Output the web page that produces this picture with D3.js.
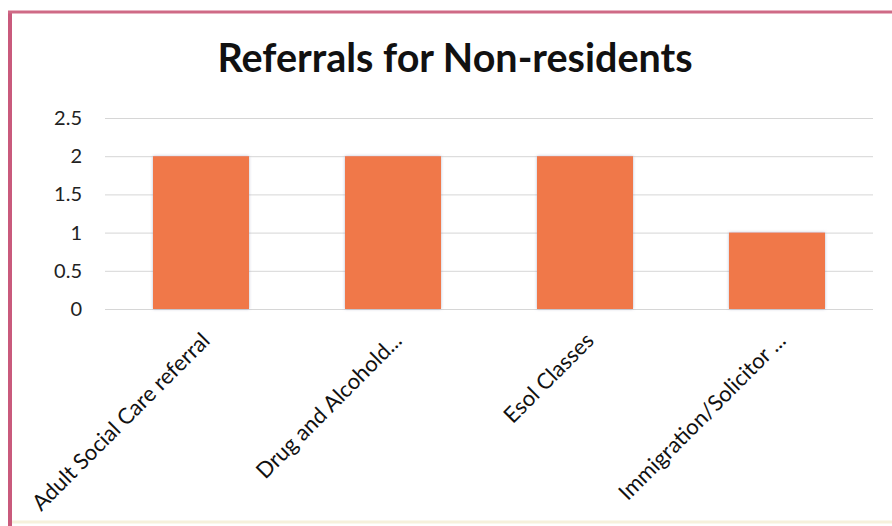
<!DOCTYPE html>
<html>
<head>
<meta charset="utf-8">
<script src="https://cdn.jsdelivr.net/npm/d3@7"></script>
<style>
  body { margin: 0; background: #fff; }
  svg { display: block; }
  .grid line { stroke: #d6d6d6; stroke-width: 1; }
  .grid path { display: none; }
  .grid text { font-family: Lato, "Open Sans", sans-serif; font-size: 20px; fill: #222; }
  .xaxis path, .xaxis line { display: none; }
  .xaxis text { font-family: Lato, "Open Sans", sans-serif; font-size: 22px; fill: #111; }
</style>
</head>
<body>
<svg id="chart" width="892" height="526"></svg>
<script>
const title = 'Referrals for Non-residents';
const categories = ['Adult Social Care referral', 'Drug and Alcohold...', 'Esol Classes', 'Immigration/Solicitor ...'];
const values = [2, 2, 2, 1];
const yTicks = [0, 0.5, 1, 1.5, 2, 2.5];

const width = 892, height = 526;
const plot = { left: 105, right: 873, top: 118, bottom: 309 };

const svg = d3.select('#chart');

svg.append('rect').attr('width', width).attr('height', height).attr('fill', '#fff');

// frame edges of the scanned chart box
svg.append('line').attr('x1', 10).attr('x2', 10).attr('y1', 11).attr('y2', height)
  .attr('stroke', '#c95a7c').attr('stroke-width', 4);
svg.append('line').attr('x1', 8).attr('x2', width).attr('y1', 12).attr('y2', 12)
  .attr('stroke', '#cf6a86').attr('stroke-width', 3);
svg.append('line').attr('x1', 12).attr('x2', width).attr('y1', 522).attr('y2', 522)
  .attr('stroke', '#f6f1dc').attr('stroke-width', 3);

svg.append('text')
  .attr('x', 455).attr('y', 72)
  .attr('text-anchor', 'middle')
  .style('font-family', 'Lato, "Open Sans", sans-serif')
  .style('font-weight', 'bold')
  .style('font-size', '39.5px')
  .attr('fill', '#111')
  .text(title);

const x = d3.scaleBand()
  .domain(categories)
  .range([plot.left, plot.right])
  .paddingInner(0.5)
  .paddingOuter(0.25);

const y = d3.scaleLinear()
  .domain([0, 2.5])
  .range([plot.bottom, plot.top]);

svg.append('g')
  .attr('class', 'grid')
  .attr('transform', `translate(${plot.left},0)`)
  .call(d3.axisLeft(y).tickValues(yTicks).tickSize(-(plot.right - plot.left)).tickPadding(23).tickFormat(d3.format('')));

const defs = svg.append('defs');
const shadow = defs.append('filter').attr('id', 'soft').attr('x', '-10%').attr('y', '-10%').attr('width', '120%').attr('height', '120%');
shadow.append('feGaussianBlur').attr('in', 'SourceAlpha').attr('stdDeviation', 1.5).attr('result', 'blur');
shadow.append('feFlood').attr('flood-color', '#8a8fb0').attr('flood-opacity', 0.6);
shadow.append('feComposite').attr('in2', 'blur').attr('operator', 'in').attr('result', 'sh');
const merge = shadow.append('feMerge');
merge.append('feMergeNode').attr('in', 'sh');
merge.append('feMergeNode').attr('in', 'SourceGraphic');

svg.append('g')
  .selectAll('rect')
  .data(values)
  .join('rect')
  .attr('x', (d, i) => x(categories[i]))
  .attr('y', d => y(d))
  .attr('width', x.bandwidth())
  .attr('height', d => y(0) - y(d))
  .attr('fill', '#f0784a')
  .attr('filter', 'url(#soft)');

svg.append('g')
  .attr('class', 'xaxis')
  .attr('transform', `translate(0,${plot.bottom})`)
  .call(d3.axisBottom(x).tickSize(0))
  .selectAll('text')
  .attr('text-anchor', 'end')
  .attr('dy', 0)
  .attr('transform', 'translate(8,31) rotate(-45)');
</script>
</body>
</html>
